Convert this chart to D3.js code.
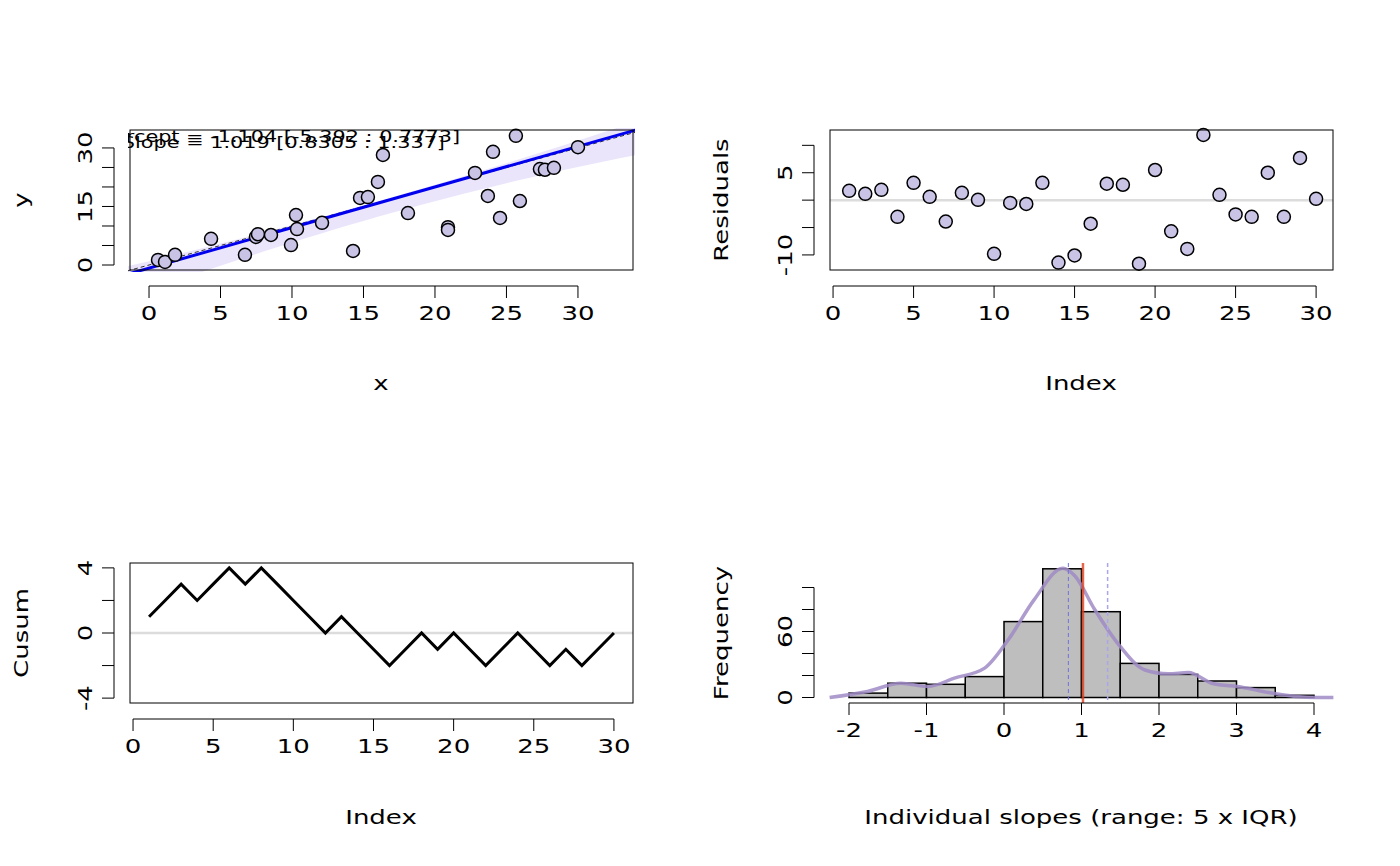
<!DOCTYPE html>
<html><head><meta charset="utf-8">
<script src="https://cdn.jsdelivr.net/npm/d3@7"></script>
<style>body{margin:0;background:#fff}text{font-family:"DejaVu Sans",sans-serif;fill:#000}</style>
</head><body><svg id="c" width="1400" height="866"></svg>
<script>
"use strict"
const xs = [0.63,1.12,1.82,4.34,6.71,7.48,7.62,8.53,9.93,10.28,10.35,12.1,14.27,14.76,15.31,16.01,16.36,18.11,20.91,20.91,22.8,23.7,24.06,24.55,25.66,25.94,27.34,27.69,28.32,30.0];
const ys = [1.3,0.8,2.6,6.7,2.6,7.2,7.9,7.7,5.1,12.8,9.2,10.8,3.6,17.2,17.4,21.3,28.2,13.3,9.7,9.0,23.6,17.7,29.0,12.05,33.1,16.4,24.6,24.4,24.9,30.2];
const resid = [1.7,1.15,1.88,-3.05,3.16,0.6,-3.9,1.33,0.05,-9.8,-0.5,-0.7,3.16,-11.4,-10.1,-4.3,3.0,2.8,-11.6,5.5,-5.7,-8.9,11.9,0.97,-2.6,-3.05,5.0,-3.05,7.7,0.24];
const cusum = [1,2,3,2,3,4,3,4,3,2,1,0,1,0,-1,-2,-1,0,-1,0,-1,-2,-1,0,-1,-2,-1,-2,-1,0];
const binEdges = [-2,-1.5,-1,-0.5,0,0.5,1,1.5,2,2.5,3,3.5,4];
const binCounts = [4,13,12,19,69,117,78,31,21,15,9,2];
const densX = [-2.25,-1.76,-1.33,-0.98,-0.64,-0.25,0.05,0.39,0.76,0.91,1.17,1.47,1.82,2.12,2.38,2.68,3.07,3.41,3.76,4.04,4.25];
const densY = [0,5.5,13,10,17.6,26.7,52,89,117.6,111,80,49,25,21.5,22.7,13,9.4,4.5,1,0,0];
const slope = 1.04, intercept = -0.8, slopeEst = 1.019, slopeCI = [0.8305,1.337];
const index = d3.range(1,31);

const svg = d3.select("#c");
const fill = "#c9c3e6";
const SX = 1.3; // reference glyphs are wider than DejaVu

function txt(g, x, y, s, size, rot, anchor){
  return g.append("text").attr("transform",`translate(${x},${y})${rot?" rotate(-90)":""} scale(${SX},1)`)
    .attr("text-anchor",anchor||"middle").attr("font-size",size).text(s);
}
function yAxis(g, y, ticks, labels, x0){
  g.append("line").attr("x1",x0).attr("x2",x0).attr("y1",y(ticks[0])).attr("y2",y(ticks[ticks.length-1])).attr("stroke","#000");
  ticks.forEach(t=>{
    g.append("line").attr("x1",x0-12).attr("x2",x0).attr("y1",y(t)).attr("y2",y(t)).attr("stroke","#000");
    if(labels.includes(t)) txt(g,x0-22,y(t),t,20,true);
  });
}
function xAxis(g, x, ticks, y0){
  g.append("line").attr("x1",x(ticks[0])).attr("x2",x(ticks[ticks.length-1])).attr("y1",y0).attr("y2",y0).attr("stroke","#000");
  ticks.forEach(t=>{
    g.append("line").attr("x1",x(t)).attr("x2",x(t)).attr("y1",y0).attr("y2",y0+12).attr("stroke","#000");
    txt(g,x(t),y0+34,t,20);
  });
}
function titles(g, cx, xl, yTitleX, cy, yl, xy){
  txt(g,cx,xy,xl,20);
  txt(g,yTitleX,cy,yl,20,true);
}

// panel 1: scatter
{
  const g = svg.append("g");
  const x = d3.scaleLinear().domain([-1.33,33.85]).range([130,633]);
  const y = d3.scaleLinear().domain([-1.28,34.6]).range([270,130]);
  g.append("clipPath").attr("id","cp1").append("rect").attr("x",128).attr("y",128).attr("width",507).attr("height",144);
  const p = g.append("g").attr("clip-path","url(#cp1)");
  const bx = d3.range(-2,35,1);
  const band = d3.area().x(d=>x(d)).y0(d=>y(intercept+slope*d-3.5-0.018*Math.abs(d-16)*Math.abs(d-16)/2))
    .y1(d=>y(intercept+slope*d+0.5+0.01*Math.abs(d-16)*Math.abs(d-16)/2));
  p.append("path").datum(bx).attr("d",band).attr("fill","#ebe5fb");
  p.append("line").attr("x1",x(-2)).attr("y1",y(-2)).attr("x2",x(35)).attr("y2",y(35)).attr("stroke","#000").attr("stroke-dasharray","4,3").attr("stroke-width",0.8);
  p.append("line").attr("x1",x(-2)).attr("y1",y(intercept-2*slope)).attr("x2",x(35)).attr("y2",y(intercept+35*slope)).attr("stroke","#0000ee").attr("stroke-width",3);
  txt(p,460,142,"Intercept = -1.104 [-5.392 : 0.7773]",16,false,"end");
  txt(p,445,148,"Slope = 1.019 [0.8305 : 1.337]",16,false,"end");
  g.selectAll("circle").data(xs).join("circle").attr("cx",d=>x(d)).attr("cy",(d,i)=>y(ys[i])).attr("r",6.5).attr("fill",fill).attr("stroke","#000").attr("stroke-width",1.5);
  g.append("rect").attr("x",130).attr("y",130).attr("width",503).attr("height",140).attr("fill","none").attr("stroke","#000");
  xAxis(g,x,[0,5,10,15,20,25,30],286);
  yAxis(g,y,[0,5,10,15,20,25,30],[0,15,30],114);
  titles(g,381,"x",28,200,"y",390);
}
// panel 2: residuals
{
  const g = svg.append("g");
  const x = d3.scaleLinear().domain([-0.19,31.05]).range([830,1333]);
  const y = d3.scaleLinear().domain([-12.75,12.8]).range([270,130]);
  g.append("line").attr("x1",830).attr("x2",1333).attr("y1",y(0)).attr("y2",y(0)).attr("stroke","#dcdcdc").attr("stroke-width",2.5);
  g.selectAll("circle").data(resid).join("circle").attr("cx",(d,i)=>x(index[i])).attr("cy",d=>y(d)).attr("r",6.5).attr("fill",fill).attr("stroke","#000").attr("stroke-width",1.5);
  g.append("rect").attr("x",830).attr("y",130).attr("width",503).attr("height",140).attr("fill","none").attr("stroke","#000");
  xAxis(g,x,[0,5,10,15,20,25,30],286);
  yAxis(g,y,[-10,-5,0,5,10],[-10,5],814);
  titles(g,1081,"Index",728,200,"Residuals",390);
}
// panel 3: cusum
{
  const g = svg.append("g");
  const x = d3.scaleLinear().domain([-0.19,31.19]).range([130,633]);
  const y = d3.scaleLinear().domain([-4.3,4.3]).range([703,563]);
  g.append("line").attr("x1",130).attr("x2",633).attr("y1",y(0)).attr("y2",y(0)).attr("stroke","#dcdcdc").attr("stroke-width",2.5);
  g.append("path").datum(cusum).attr("d",d3.line().x((d,i)=>x(index[i])).y(d=>y(d))).attr("fill","none").attr("stroke","#000").attr("stroke-width",3);
  g.append("rect").attr("x",130).attr("y",563).attr("width",503).attr("height",140).attr("fill","none").attr("stroke","#000");
  xAxis(g,x,[0,5,10,15,20,25,30],703+16);
  yAxis(g,y,[-4,-2,0,2,4],[-4,0,4],114);
  titles(g,381,"Index",28,633,"Cusum",824);
}
// panel 4: histogram
{
  const g = svg.append("g");
  const x = d3.scaleLinear().domain([-2,4]).range([849,1314]);
  const y = d3.scaleLinear().domain([0,120]).range([697.5,565.5]);
  binCounts.forEach((c,i)=>{
    g.append("rect").attr("x",x(binEdges[i])).attr("y",y(c)).attr("width",x(binEdges[i+1])-x(binEdges[i])).attr("height",y(0)-y(c)).attr("fill","#bebebe").attr("stroke","#000").attr("stroke-width",1.5);
  });
  g.append("path").datum(densX).attr("d",d3.line().curve(d3.curveMonotoneX).x(d=>x(d)).y((d,i)=>y(densY[i]))).attr("fill","none").attr("stroke","#9f8bc4").attr("stroke-opacity",0.85).attr("stroke-width",3.5);
  g.append("line").attr("x1",x(slopeCI[0])).attr("x2",x(slopeCI[0])).attr("y1",563).attr("y2",703).attr("stroke","#6f72e0").attr("stroke-dasharray","4,3");
  g.append("line").attr("x1",x(slopeCI[1])).attr("x2",x(slopeCI[1])).attr("y1",563).attr("y2",703).attr("stroke","#a9a6ee").attr("stroke-width",1.5).attr("stroke-dasharray","4,3");
  g.append("line").attr("x1",x(slopeEst)).attr("x2",x(slopeEst)).attr("y1",563).attr("y2",703).attr("stroke","#e0401f").attr("stroke-opacity",0.8).attr("stroke-width",2.5);
  xAxis(g,x,[-2,-1,0,1,2,3,4],703);
  yAxis(g,y,[0,20,40,60,80,100],[0,60],814);
  titles(g,1081,"Individual slopes (range: 5 x IQR)",728,633,"Frequency",824);
}
</script></body></html>
